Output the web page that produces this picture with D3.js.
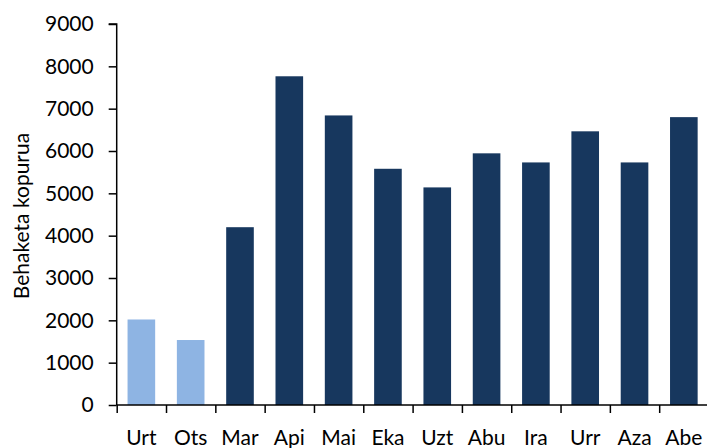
<!DOCTYPE html>
<html><head><meta charset="utf-8">
<script src="https://cdn.jsdelivr.net/npm/d3@7"></script>
<style>
html,body{margin:0;padding:0;background:#fff;}
svg{display:block;}
text{font-family:Lato, "Open Sans", sans-serif;fill:#000;}
</style></head>
<body>
<svg id="c" width="707" height="448"></svg>
<script>
const categories = ["Urt","Ots","Mar","Api","Mai","Eka","Uzt","Abu","Ira","Urr","Aza","Abe"];
const values = [2020,1535,4200,7765,6840,5580,5140,5945,5730,6465,5730,6800];
const barColors = ["#8EB4E3","#8EB4E3","#17375E","#17375E","#17375E","#17375E","#17375E","#17375E","#17375E","#17375E","#17375E","#17375E"];
const yTicks = [0,1000,2000,3000,4000,5000,6000,7000,8000,9000];
const yTitle = "Behaketa kopurua";

const svg = d3.select("#c");
const x0 = 116.7, x1 = 708.5, yTop = 24, yBot = 405;
const fs = 21;
const x = d3.scaleBand().domain(categories).range([x0, x1]).paddingInner(0.44).paddingOuter(0.22);
const y = d3.scaleLinear().domain([0, 9000]).range([yBot, yTop]);
const b = d3.scaleLinear().domain([0, categories.length]).range([x0, x1]);

svg.append("g").selectAll("rect").data(values).join("rect")
  .attr("x", (d,i) => x(categories[i]))
  .attr("width", x.bandwidth())
  .attr("y", d => y(d))
  .attr("height", d => y(0) - y(d))
  .attr("fill", (d,i) => barColors[i]);

// y axis
const ya = svg.append("g").attr("transform", `translate(${x0},0)`)
  .call(d3.axisLeft(y).tickValues(yTicks).tickSize(8).tickPadding(15).tickFormat(d3.format("d")));
ya.select(".domain").attr("stroke", "#000").attr("stroke-width", 1.5).attr("d", `M-8,${yTop}H0V${yBot}`);
ya.selectAll(".tick line").attr("stroke", "#000").attr("stroke-width", 1.5);
ya.selectAll(".tick text").attr("font-size", fs).attr("font-family", "Lato").attr("fill", "#000");

// x axis: boundary ticks
const xb = svg.append("g").attr("transform", `translate(0,${yBot})`)
  .call(d3.axisBottom(b).tickValues(d3.range(0, categories.length)).tickSize(8).tickFormat(""));
xb.select(".domain").attr("stroke", "#000").attr("stroke-width", 1.5).attr("d", `M${x0},0H707`);
xb.selectAll(".tick line").attr("stroke", "#000").attr("stroke-width", 1.5);

// x labels
const xl = svg.append("g").attr("transform", `translate(0,${yBot})`)
  .call(d3.axisBottom(x).tickSize(0).tickPadding(25));
xl.select(".domain").remove();
xl.selectAll(".tick text").attr("font-size", fs).attr("font-family", "Lato").attr("fill", "#000");

svg.append("text")
  .attr("transform", `translate(29,${(yTop + 408) / 2}) rotate(-90)`)
  .attr("text-anchor", "middle")
  .attr("font-size", fs)
  .text(yTitle);
</script>
</body></html>
